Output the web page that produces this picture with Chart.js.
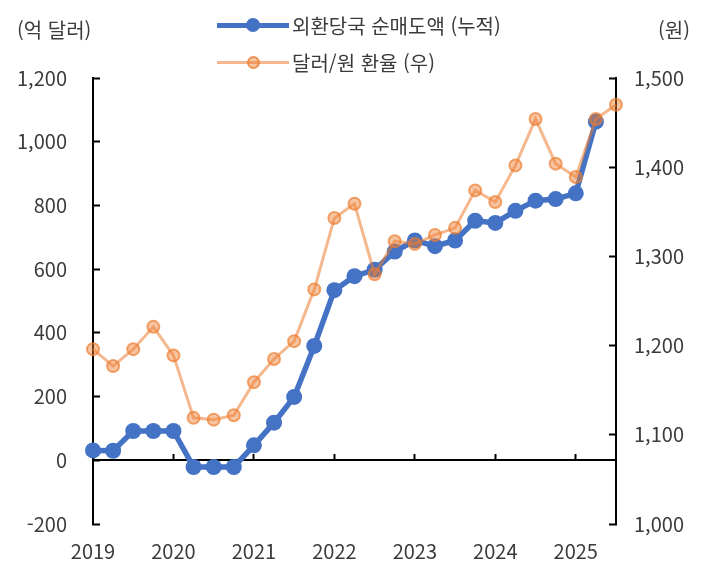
<!DOCTYPE html>
<html lang="ko">
<head>
<meta charset="utf-8">
<script src="https://cdn.jsdelivr.net/npm/chart.js@4"></script>
<style>
    body { margin: 0; background: #fff; }
    #wrap { position: relative; width: 709px; height: 579px; font-family: "Noto Sans CJK KR", sans-serif; color: #3b3b3b; }
    .unit { position: absolute; top: 14px; font-size: 20px; line-height: 32px; }
    .legend-row { position: absolute; left: 217px; height: 32px; display: flex; align-items: center; font-size: 20px; white-space: nowrap; }
    .mark { position: relative; width: 72px; height: 32px; margin-right: 3px; }
    .mark .ln { position: absolute; left: 0; right: 0; top: 50%; }
    .mark .dot { position: absolute; left: 50%; top: 50%; border-radius: 50%; box-sizing: border-box; }
</style>
</head>
<body>
<div id="wrap">
    <canvas id="fxChart"></canvas>
    <div class="unit" style="left:17px">(억 달러)</div>
    <div class="unit" style="right:19px">(원)</div>
    <div class="legend-row" style="top:9px">
        <span class="mark">
            <span class="ln" style="height:5px;margin-top:-2.5px;background:#4472C4"></span>
            <span class="dot" style="width:14px;height:14px;margin:-7px 0 0 -7px;background:#4472C4"></span>
        </span>
        <span>외환당국 순매도액 (누적)</span>
    </div>
    <div class="legend-row" style="top:46px">
        <span class="mark">
            <span class="ln" style="height:3px;margin-top:-1.5px;background:rgba(237,125,49,0.55)"></span>
            <span class="dot" style="width:13px;height:13px;margin:-6.5px 0 0 -6.5px;background:rgba(237,125,49,0.45);border:2px solid rgba(237,125,49,0.7)"></span>
        </span>
        <span>달러/원 환율 (우)</span>
    </div>
</div>
<script>
// 분기별 (2019Q1 ~ 2025Q3)
const quarters = [
    '2019Q1', '2019Q2', '2019Q3', '2019Q4',
    '2020Q1', '2020Q2', '2020Q3', '2020Q4',
    '2021Q1', '2021Q2', '2021Q3', '2021Q4',
    '2022Q1', '2022Q2', '2022Q3', '2022Q4',
    '2023Q1', '2023Q2', '2023Q3', '2023Q4',
    '2024Q1', '2024Q2', '2024Q3', '2024Q4',
    '2025Q1', '2025Q2', '2025Q3'
];

// 외환당국 순매도액 누적 (억 달러)
const netSales = [
    31, 30, 92, 92,
    92, -21, -21, -21,
    47, 118, 199, 359,
    534, 578, 598, 655,
    690, 672, 690, 752,
    745, 783, 815, 820,
    838, 1063, null
];

// 달러/원 환율 (원, 우축)
const usdKrw = [
    1196, 1177, 1196, 1221,
    1189, 1119, 1117, 1122,
    1159, 1185, 1205, 1263,
    1343, 1359, 1280, 1317,
    1314, 1324, 1332, 1374,
    1361, 1402, 1454, 1404,
    1389, 1454, 1470
];

Chart.defaults.font.family = '"Noto Sans CJK KR", sans-serif';
Chart.defaults.font.size = 20;
Chart.defaults.color = '#3b3b3b';

// 축 안쪽으로 들어가는 눈금
const axisGrid = {
    drawOnChartArea: false,
    tickLength: -7,
    tickWidth: 2,
    color: '#000'
};

let ctx = document.getElementById('fxChart').getContext('2d');

let fxChart = new Chart(ctx, {
    type: 'line',
    data: {
        labels: quarters,
        datasets: [
            {
                label: '외환당국 순매도액 (누적)',
                data: netSales,
                yAxisID: 'y',
                xAxisID: 'x',
                borderColor: '#4472C4',
                backgroundColor: '#4472C4',
                borderWidth: 5.5,
                pointRadius: 8,
                pointBorderWidth: 0,
                pointBackgroundColor: '#4472C4',
                fill: false,
                order: 2
            },
            {
                label: '달러/원 환율 (우)',
                data: usdKrw,
                yAxisID: 'y1',
                xAxisID: 'x',
                borderColor: 'rgba(237,125,49,0.55)',
                borderWidth: 3,
                pointRadius: 6,
                pointBorderWidth: 2,
                pointBorderColor: 'rgba(237,125,49,0.7)',
                pointBackgroundColor: 'rgba(237,125,49,0.45)',
                fill: false,
                order: 1
            }
        ]
    },
    options: {
        responsive: true,
        maintainAspectRatio: false,
        animation: false,
        layout: {
            padding: { left: 0, right: 0, top: 78, bottom: 0 }
        },
        plugins: {
            legend: { display: false },
            tooltip: { enabled: false }
        },
        scales: {
            x: {
                type: 'category',
                offset: false,
                grid: { display: false },
                border: { display: false },
                ticks: {
                    autoSkip: false,
                    maxRotation: 0,
                    padding: 7,
                    callback: (v, i) => i % 4 === 0 ? quarters[i].slice(0, 4) : ''
                },
                afterFit: scale => { scale.height = 55; }
            },
            // 0선 + 연도 눈금
            xZero: {
                type: 'category',
                position: { y: 0 },
                offset: false,
                ticks: { display: false, autoSkip: false },
                grid: {
                    drawOnChartArea: false,
                    tickLength: -7,
                    tickWidth: 2,
                    color: c => c.index % 4 === 0 ? '#000' : 'rgba(0,0,0,0)'
                },
                border: { color: '#000', width: 2 }
            },
            y: {
                position: 'left',
                min: -200,
                max: 1200,
                ticks: { stepSize: 200, padding: 33 },
                grid: axisGrid,
                border: { color: '#000', width: 2 },
                afterFit: scale => { scale.width = 93; }
            },
            y1: {
                position: 'right',
                min: 1000,
                max: 1500,
                ticks: { stepSize: 100, padding: 25 },
                grid: axisGrid,
                border: { color: '#000', width: 2 },
                afterFit: scale => { scale.width = 93; }
            }
        }
    }
});
</script>
</body>
</html>
